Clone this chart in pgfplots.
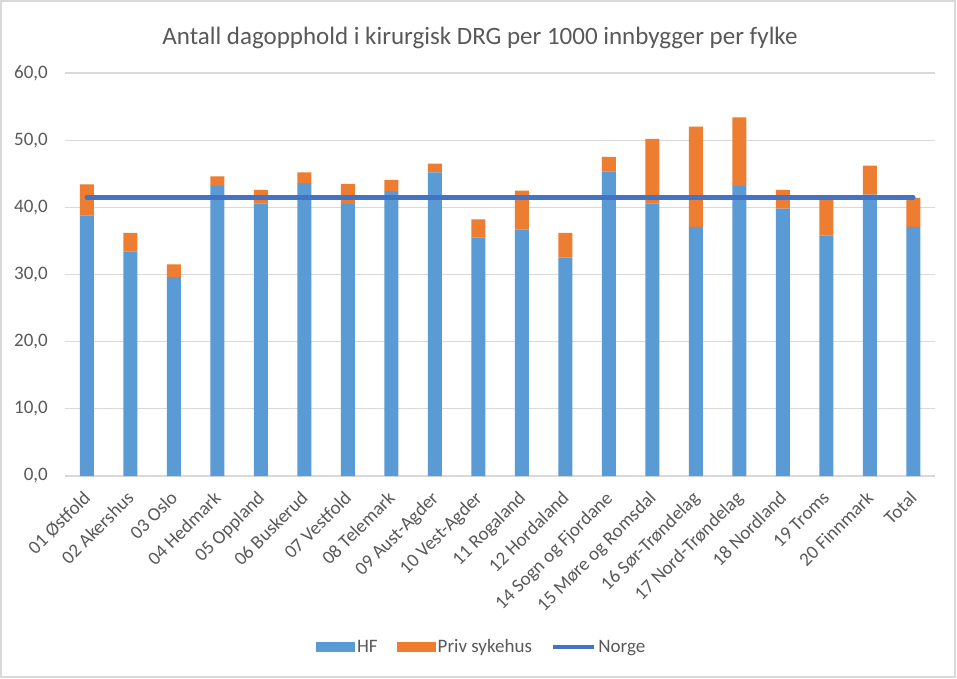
\documentclass[border=0pt]{standalone}
\usepackage{pgfplots}
\pgfplotsset{compat=1.18}
\usepackage{fontspec}
\setmainfont{Carlito}
\definecolor{hf}{HTML}{5B9BD5}
\definecolor{priv}{HTML}{ED7D31}
\definecolor{norge}{HTML}{4472C4}
\definecolor{gridc}{HTML}{D9D9D9}
\definecolor{txt}{HTML}{595959}
\pgfplotsset{
  base/.style={
    at={(65pt,202pt)}, anchor=south west, scale only axis,
    width=870pt, height=403pt,
    xmin=-0.5, xmax=19.5, ymin=0, ymax=60,
    axis line style={draw=none}, major tick length=0pt,
  }
}
\begin{document}
\begin{tikzpicture}[x=1pt,y=1pt]
\useasboundingbox (0,0) rectangle (957,678);
\fill[white] (0,0) rectangle (957,678);
\draw[gridc, line width=1.5pt] (1,1) rectangle (955,677);
\node[font=\fontsize{25}{30}\selectfont, text=txt] at (480,640) {Antall dagopphold i kirurgisk DRG per 1000 innbygger per fylke};
\begin{axis}[base,
  ybar stacked, bar width=14pt,
  ytick={0,10,...,60}, ymajorgrids, major grid style={gridc, line width=1.3pt},
  xtick={0,...,19},
  xticklabels={01 Østfold, 02 Akershus, 03 Oslo, 04 Hedmark, 05 Oppland, 06 Buskerud, 07 Vestfold, 08 Telemark, 09 Aust-Agder, 10 Vest-Agder, 11 Rogaland, 12 Hordaland, 14 Sogn og Fjordane, 15 Møre og Romsdal, 16 Sør-Trøndelag, 17 Nord-Trøndelag, 18 Nordland, 19 Troms, 20 Finnmark, Total},
  xticklabel style={rotate=45, anchor=north east, inner sep=0pt, xshift=-13pt, yshift=-6.5pt, font=\fontsize{19}{22}\selectfont, text=txt},
  yticklabel style={anchor=east, inner sep=0pt, xshift=-17pt, font=\fontsize{19}{22}\selectfont, text=txt},
  /pgf/number format/.cd, use comma, fixed, fixed zerofill, precision=1, assume math mode=true, /pgfplots/.cd,
  legend style={at={(0.479,-0.424)}, anchor=center, legend columns=3, draw=none, fill=none,
    font=\fontsize{19}{22}\selectfont, text=txt,
    /tikz/every even column/.append style={column sep=17pt}},
]
\addplot[fill=hf, draw=none, legend image code/.code={\fill[hf] (0pt,-5pt) rectangle (39pt,5pt);}] coordinates {
(0,38.8) (1,33.4) (2,29.6) (3,43.2) (4,40.55) (5,43.6) (6,40.5) (7,42.4) (8,45.2) (9,35.5)
(10,36.7) (11,32.5) (12,45.3) (13,40.6) (14,37.1) (15,43.2) (16,39.8) (17,35.8) (18,41.9) (19,37.1)};
\addlegendentry{HF}
\addplot[fill=priv, draw=none, legend image code/.code={\fill[priv] (0pt,-5pt) rectangle (39pt,5pt);}] coordinates {
(0,4.6) (1,2.8) (2,1.9) (3,1.4) (4,2.05) (5,1.6) (6,3.0) (7,1.7) (8,1.3) (9,2.7)
(10,5.8) (11,3.7) (12,2.2) (13,9.6) (14,14.9) (15,10.2) (16,2.8) (17,5.8) (18,4.3) (19,4.3)};
\addlegendentry{Priv sykehus}
\addlegendimage{legend image code/.code={\draw[norge, line width=4.5pt] (0pt,0pt)--(41pt,0pt);}}
\addlegendentry{Norge}
\end{axis}
\begin{axis}[base, xtick=\empty, ytick=\empty]
\addplot[norge, line width=4.5pt, no marks, line cap=round] coordinates {
(0,41.5) (1,41.5) (2,41.5) (3,41.5) (4,41.5) (5,41.5) (6,41.5) (7,41.5) (8,41.5) (9,41.5)
(10,41.5) (11,41.5) (12,41.5) (13,41.5) (14,41.5) (15,41.5) (16,41.5) (17,41.5) (18,41.5) (19,41.5)};
\end{axis}
\end{tikzpicture}
\end{document}
